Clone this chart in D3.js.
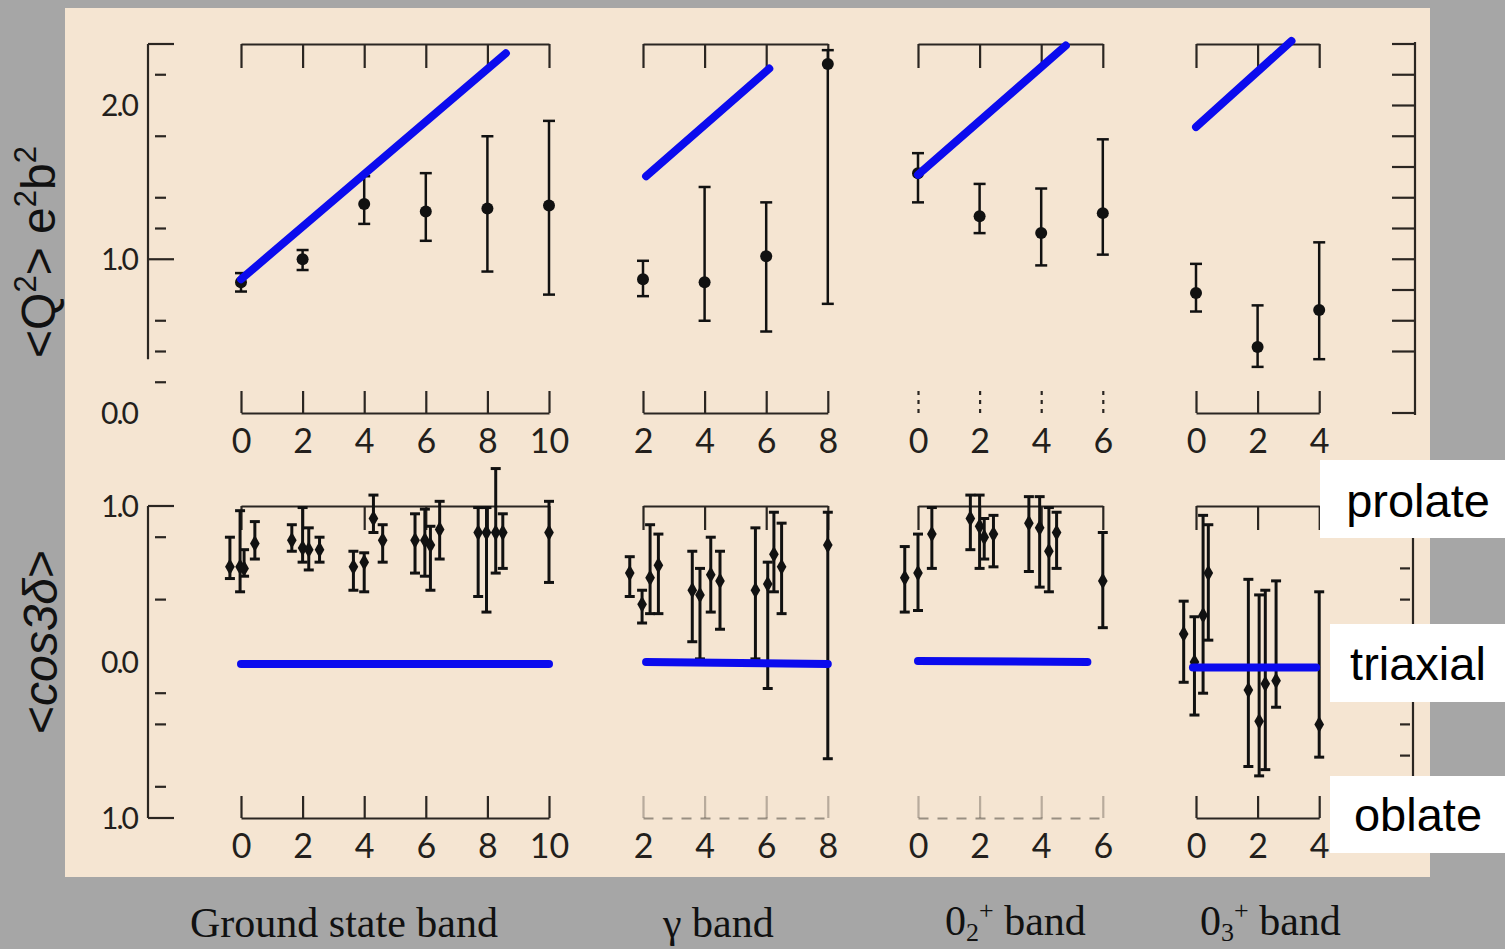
<!DOCTYPE html>
<html>
<head>
    <meta charset="utf-8" />
    <script src="https://d3js.org/d3.v7.min.js"></script>
    <title></title>
    <style>
        body { margin: 0; background: #a6a6a6; }
        svg { display: block; }
        .frame path, .frame line { stroke: #2b2622; stroke-width: 2.2; fill: none; }
        .jlabel { font-family: Lato, "Open Sans", sans-serif; font-size: 34px; fill: #231f1c; }
        .ylabel { font-family: Lato, "Open Sans", sans-serif; font-size: 30px; fill: #231f1c; letter-spacing: -2px; }
        .bar line { stroke: #111; }
        .blue { stroke: #0b0bee; stroke-width: 8; stroke-linecap: round; fill: none; }
        .band { font-family: "Liberation Serif", "DejaVu Serif", serif; font-size: 42px; fill: #111; }
        .shape { font-family: "Liberation Sans", Arial, sans-serif; font-size: 47px; fill: #000; }
        .title { font-family: "Liberation Sans", Arial, sans-serif; font-size: 48px; fill: #111; }
    </style>
</head>

<body>
    <script>
        var width = 1505,
            height = 949;

        // spin values J of each band
        var bandJ = [
            [0, 2, 4, 6, 8, 10],
            [2, 4, 6, 8],
            [0, 2, 4, 6],
            [0, 2, 4]
        ];

        // <Q^2> : [J, value, low, high]
        var q2Ground = [[0, 0.85, 0.79, 0.91], [2, 1.00, 0.93, 1.06], [4, 1.36, 1.23, 1.54],
            [6, 1.31, 1.12, 1.56], [8, 1.33, 0.92, 1.80], [10, 1.35, 0.77, 1.90]];
        var q2Gamma = [[2, 0.87, 0.76, 0.99], [4, 0.85, 0.60, 1.47], [6, 1.02, 0.53, 1.37], [8, 2.27, 0.71, 2.36]];
        var q2Zero2 = [[0, 1.56, 1.37, 1.69], [2, 1.28, 1.17, 1.49], [4, 1.17, 0.96, 1.46], [6, 1.30, 1.03, 1.78]];
        var q2Zero3 = [[0, 0.78, 0.66, 0.97], [2, 0.43, 0.30, 0.70], [4, 0.67, 0.35, 1.11]];

        // <cos 3delta> : [J (with plotting offset), value, low, high]
        var cosGround = [[-0.36, 0.61, 0.535, 0.80], [-0.03, 0.61, 0.45, 0.97], [0.1, 0.60, 0.55, 0.72],
            [0.45, 0.76, 0.66, 0.90], [1.65, 0.78, 0.71, 0.88], [2.0, 0.73, 0.64, 0.99], [2.2, 0.72, 0.59, 0.86],
            [2.55, 0.72, 0.64, 0.80], [3.65, 0.61, 0.46, 0.71], [4.0, 0.64, 0.45, 0.70], [4.3, 0.92, 0.83, 1.07],
            [4.6, 0.78, 0.64, 0.88], [5.65, 0.78, 0.57, 0.95], [5.97, 0.78, 0.55, 0.98], [6.15, 0.75, 0.46, 0.87],
            [6.45, 0.85, 0.66, 1.03], [7.7, 0.83, 0.42, 0.99], [7.97, 0.83, 0.32, 0.99], [8.27, 0.83, 0.57, 1.24],
            [8.5, 0.83, 0.60, 0.95], [10.0, 0.83, 0.51, 1.03]];
        var cosGamma = [[1.57, 0.57, 0.42, 0.675], [1.97, 0.37, 0.25, 0.46], [2.23, 0.54, 0.31, 0.88],
            [2.5, 0.62, 0.31, 0.82], [3.6, 0.46, 0.13, 0.71], [3.85, 0.43, 0.02, 0.60], [4.2, 0.56, 0.32, 0.80],
            [4.5, 0.52, 0.21, 0.71], [5.65, 0.46, 0.02, 0.86], [6.05, 0.50, -0.17, 0.64], [6.25, 0.69, 0.45, 0.96],
            [6.5, 0.61, 0.31, 0.89], [8.0, 0.75, -0.62, 0.96]];
        var cosZero2 = [[-0.43, 0.54, 0.32, 0.74], [0.0, 0.57, 0.33, 0.82], [0.45, 0.82, 0.60, 0.99],
            [1.7, 0.92, 0.72, 1.07], [2.0, 0.87, 0.60, 1.07], [2.15, 0.80, 0.66, 0.92], [2.45, 0.82, 0.61, 0.94],
            [3.6, 0.89, 0.58, 1.06], [3.95, 0.86, 0.48, 1.06], [4.25, 0.71, 0.45, 0.99], [4.5, 0.83, 0.60, 0.96],
            [6.0, 0.52, 0.22, 0.83]];
        var cosZero3 = [[-0.4, 0.18, -0.13, 0.39], [-0.05, 0.0, -0.34, 0.29], [0.23, 0.30, -0.20, 0.94],
            [0.4, 0.57, 0.14, 0.88], [1.7, -0.18, -0.67, 0.53], [2.05, -0.38, -0.73, 0.43],
            [2.25, -0.14, -0.69, 0.46], [2.6, -0.12, -0.29, 0.52], [4.0, -0.40, -0.61, 0.45]];

        // blue overlay lines : [J0, v0, J1, v1]
        var rotorLines = [[0, 0.87, 8.6, 2.34], [2.1, 1.54, 6.1, 2.24], [0, 1.55, 4.8, 2.39], [0, 1.86, 3.1, 2.42]];
        var triaxialLines = [[0, -0.013, 10, -0.013], [2.1, 0.0, 8, -0.013], [0, 0.006, 5.5, 0.0], [-0.1, -0.035, 3.9, -0.035]];

        var q2Labels = [[0, "0.0"], [1, "1.0"], [2, "2.0"]];
        var cosLabels = [[-1, "1.0"], [0, "0.0"], [1, "1.0"]];
        var q2MinorTicks = [0.2, 0.4, 0.6, 1.2, 1.4, 1.8, 2.2];
        var q2MajorTicks = [1.0, 2.4];
        var cosMinorTicks = [0.8, 0.4, -0.2, -0.4, -0.8];
        var cosMajorTicks = [1.0, -1.0];
        var rightQ2Ticks = [0, 0.4, 0.6, 0.8, 1.0, 1.2, 1.4, 1.6, 1.8, 2.0, 2.2, 2.4];
        var rightCosTicks = [0.6, 0.4, -0.4, -0.6];
        var shapeLabels = ["prolate", "triaxial", "oblate"];

        var q2Data = [q2Ground, q2Gamma, q2Zero2, q2Zero3];
        var cosData = [cosGround, cosGamma, cosZero2, cosZero3];

        // layout
        var bandX0 = [241, 643, 918, 1196],
            unit = 30.8;
        var baseStyleTop = ["solid", "solid", "ticks", "solid"],
            baseStyleBottom = ["solid", "faint", "faint", "solid"];

        var svg = d3.select("body").append("svg")
            .attr("width", width)
            .attr("height", height);

        svg.append("rect").attr("width", width).attr("height", height).attr("fill", "#a6a6a6");
        svg.append("rect").attr("x", 65).attr("y", 8).attr("width", 1365).attr("height", 869).attr("fill", "#f5e5d2");

        var yQ = d3.scaleLinear().domain([0, 2.4]).range([413, 44]);
        var yC = d3.scaleLinear().domain([-1, 1]).range([818, 506]);

        function styleLabels(g) {
            g.attr("font-size", null).attr("font-family", null);
            g.selectAll("text").attr("class", "jlabel").text(function (d) { return d; });
        }

        function frames(x, J, y, top, bottom, baseStyle) {
            var gTop = svg.append("g").attr("class", "frame")
                .attr("transform", "translate(0," + y(top) + ")")
                .call(d3.axisTop(x).tickValues(J).tickSize(-24).tickSizeOuter(0).tickFormat(""));
            gTop.attr("font-size", null).attr("font-family", null);

            var gBot = svg.append("g").attr("class", "frame")
                .attr("transform", "translate(0," + y(bottom) + ")")
                .call(d3.axisBottom(x).tickValues(J).tickSize(-22).tickSizeOuter(0).tickPadding(16));
            styleLabels(gBot);
            if (baseStyle === "ticks") {
                gBot.select(".domain").remove();
                gBot.selectAll(".tick line").attr("stroke-dasharray", "4,5");
            } else if (baseStyle === "faint") {
                gBot.select(".domain").attr("stroke-dasharray", "10,9").style("opacity", 0.45);
                gBot.selectAll(".tick line").style("opacity", 0.3);
            }
        }

        function errorBars(data, x, y, cap, r, w, round) {
            var g = svg.append("g").attr("class", "bar");
            var bar = g.selectAll("g").data(data).enter().append("g")
                .style("stroke-width", w);
            bar.append("line")
                .attr("x1", function (d) { return x(d[0]); })
                .attr("x2", function (d) { return x(d[0]); })
                .attr("y1", function (d) { return y(d[2]); })
                .attr("y2", function (d) { return y(d[3]); });
            [2, 3].forEach(function (k) {
                bar.append("line")
                    .attr("x1", function (d) { return x(d[0]) - cap; })
                    .attr("x2", function (d) { return x(d[0]) + cap; })
                    .attr("y1", function (d) { return y(d[k]); })
                    .attr("y2", function (d) { return y(d[k]); });
            });
            bar.append("path")
                .attr("transform", function (d) { return "translate(" + x(d[0]) + "," + y(d[1]) + ")"; })
                .attr("d", d3.symbol(round ? d3.symbolCircle : d3.symbolDiamond, r * r * (round ? 3.14 : 4)))
                .attr("fill", "#111");
        }

        function blueLine(l, x, y) {
            svg.append("line").attr("class", "blue")
                .attr("x1", x(l[0])).attr("y1", y(l[1]))
                .attr("x2", x(l[2])).attr("y2", y(l[3]));
        }

        bandJ.forEach(function (J, b) {
            var j0 = J[0], j1 = J[J.length - 1];
            var x = d3.scaleLinear().domain([j0, j1]).range([bandX0[b], bandX0[b] + unit * (j1 - j0)]);

            frames(x, J, yQ, 2.4, 0, baseStyleTop[b]);
            frames(x, J, yC, 1, -1, baseStyleBottom[b]);

            errorBars(q2Data[b], x, yQ, 6, 6, 2.5, true);
            errorBars(cosData[b], x, yC, 5, 4.5, 3, false);

            blueLine(rotorLines[b], x, yQ);
            blueLine(triaxialLines[b], x, yC);
        });

        // left axes
        function leftAxis(y, top, bottom, minor, major, labels) {
            var g = svg.append("g").attr("class", "frame");
            var ax = 148;
            g.append("line").attr("x1", ax).attr("x2", ax).attr("y1", y(top)).attr("y2", y(bottom));
            g.selectAll(".mi").data(minor).enter().append("line").attr("class", "mi")
                .attr("x1", ax + 7).attr("x2", ax + 18)
                .attr("y1", function (d) { return y(d); }).attr("y2", function (d) { return y(d); });
            g.selectAll(".ma").data(major).enter().append("line").attr("class", "ma")
                .attr("x1", ax).attr("x2", ax + 26)
                .attr("y1", function (d) { return y(d); }).attr("y2", function (d) { return y(d); });
            svg.selectAll(null).data(labels).enter().append("text")
                .attr("class", "ylabel")
                .attr("x", 137)
                .attr("y", function (d) { return y(d[0]); })
                .attr("dy", "0.36em")
                .attr("text-anchor", "end")
                .text(function (d) { return d[1]; });
        }
        leftAxis(yQ, 2.4, 0.35, q2MinorTicks, q2MajorTicks, q2Labels);
        leftAxis(yC, 1, -1, cosMinorTicks, cosMajorTicks, cosLabels);

        // right axes
        var rq = svg.append("g").attr("class", "frame");
        rq.append("line").attr("x1", 1415).attr("x2", 1415).attr("y1", yQ(2.4) - 2).attr("y2", yQ(0) + 2);
        rq.selectAll(".t").data(rightQ2Ticks).enter().append("line").attr("class", "t")
            .attr("x1", 1392).attr("x2", 1415)
            .attr("y1", function (d) { return yQ(d); }).attr("y2", function (d) { return yQ(d); });
        var rc = svg.append("g").attr("class", "frame");
        rc.append("line").attr("x1", 1413).attr("x2", 1413).attr("y1", yC(1)).attr("y2", yC(-1));
        rc.selectAll(".t").data(rightCosTicks).enter().append("line").attr("class", "t")
            .attr("x1", 1400).attr("x2", 1410)
            .attr("y1", function (d) { return yC(d); }).attr("y2", function (d) { return yC(d); });

        // shape labels on the right
        var shapeBoxes = [[1320, 460, 185, 78, 517], [1330, 624, 175, 78, 680], [1330, 776, 175, 77, 831]];
        shapeLabels.forEach(function (s, i) {
            var bx = shapeBoxes[i];
            svg.append("rect").attr("x", bx[0]).attr("y", bx[1]).attr("width", bx[2]).attr("height", bx[3]).attr("fill", "#fff");
            svg.append("text").attr("class", "shape")
                .attr("x", 1418).attr("y", bx[4]).attr("text-anchor", "middle").text(s);
        });

        // y titles
        var t1 = svg.append("text").attr("class", "title")
            .attr("transform", "translate(55,252) rotate(-90)")
            .attr("text-anchor", "middle");
        t1.append("tspan").text("<Q");
        t1.append("tspan").attr("dy", -19).attr("font-size", 31).text("2");
        t1.append("tspan").attr("dy", 19).text("> e");
        t1.append("tspan").attr("dy", -19).attr("font-size", 31).text("2");
        t1.append("tspan").attr("dy", 19).text("b");
        t1.append("tspan").attr("dy", -19).attr("font-size", 31).text("2");

        var t2 = svg.append("text").attr("class", "title")
            .attr("transform", "translate(57,642) rotate(-90)")
            .attr("text-anchor", "middle")
            .attr("font-size", 55);
        t2.append("tspan").text("<");
        t2.append("tspan").attr("font-style", "italic").text("cos3\u03b4");
        t2.append("tspan").text(">");

        // band names
        var bandTextX = [190, 663, 945, 1200];
        svg.append("text").attr("class", "band").attr("x", bandTextX[0]).attr("y", 937).text("Ground state band");
        svg.append("text").attr("class", "band").attr("x", bandTextX[1]).attr("y", 937).text("\u03b3 band");
        [["2", bandTextX[2]], ["3", bandTextX[3]]].forEach(function (p) {
            var t = svg.append("text").attr("class", "band").attr("x", p[1]).attr("y", 935);
            t.append("tspan").text("0");
            t.append("tspan").attr("dy", 6).attr("font-size", 26).text(p[0]);
            t.append("tspan").attr("dy", -22).attr("font-size", 26).text("+");
            t.append("tspan").attr("dy", 16).text(" band");
        });
    </script>
</body>

</html>
